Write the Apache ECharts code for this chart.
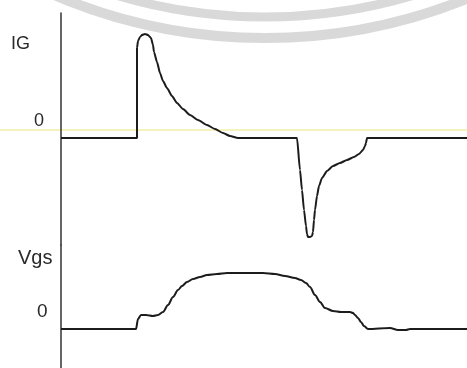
<!DOCTYPE html>
<html>
<head>
<meta charset="utf-8">
<script src="https://cdn.jsdelivr.net/npm/echarts@6/dist/echarts.min.js"></script>
<style>
html,body{margin:0;padding:0;background:#fff;}
#chart{width:467px;height:368px;}
</style>
</head>
<body>
<div id="chart"></div>
<script>
// time (arbitrary units) for gate current IG
const igTime = [0,76,76,77,79,81,84,87,90,92,93,96,99,102,106,111,116,122,129,137,146,154,162,169,177,
  236,239,241,243,245,246,247,249,251,252,253,254,256,258,261,266,272,279,286,293,298,302,304,305,306,406];
// gate current IG (arbitrary units)
const igValues = [0,0,0.90,0.97,1.01,1.03,1.04,1.03,1.00,0.93,0.86,0.76,0.65,0.57,0.50,0.42,0.35,0.29,0.23,0.18,0.13,0.09,0.05,0.02,0,
  0,-0.32,-0.52,-0.72,-0.88,-0.96,-0.99,-0.99,-0.98,-0.94,-0.82,-0.72,-0.58,-0.48,-0.40,-0.33,-0.28,-0.25,-0.22,-0.19,-0.16,-0.12,-0.08,-0.05,0,0];
// time for gate-source voltage Vgs
const vgsTime = [0,75,77,80,85,92,97,102,107,112,117,121,126,132,139,146,156,166,184,202,214,224,234,240,245,249,254,259,264,272,280,289,292,294,297,300,303,307,329,337,345,349,406];
// gate-source voltage Vgs (arbitrary units)
const vgsValues = [0,0,0.10,0.14,0.14,0.13,0.14,0.17,0.24,0.32,0.39,0.43,0.47,0.50,0.52,0.54,0.55,0.56,0.56,0.56,0.55,0.53,0.51,0.49,0.46,0.42,0.34,0.27,0.21,0.18,0.17,0.17,0.16,0.14,0.11,0.07,0.03,0,0.01,-0.01,-0.01,0,0];
// axis labels
const igLabels = ["IG","0"];
const vgsLabels = ["Vgs","0"];

const zip = (a,b) => a.map((t,i) => [t,b[i]]);

const chart = echarts.init(document.getElementById('chart'), null, {renderer:'canvas'});
const lineStyle = {color:'#1c1c1c', width:2};
const yAxisBase = {
  type:'value',
  axisLine:{show:true, lineStyle:{color:'#333', width:1.5}},
  axisTick:{show:false}, axisLabel:{show:false}, splitLine:{show:false}
};
const fnt = s => s + 'px "Liberation Sans", Arial, sans-serif';
chart.setOption({
  backgroundColor:'#ffffff',
  animation:false,
  grid:[
    {left:61, right:0, top:13, height:232},
    {left:61, right:0, top:245, height:123}
  ],
  xAxis:[
    {type:'value', gridIndex:0, min:0, max:406, show:false},
    {type:'value', gridIndex:1, min:0, max:406, show:false}
  ],
  yAxis:[
    Object.assign({gridIndex:0, min:-1.07, max:1.25}, yAxisBase),
    Object.assign({gridIndex:1, min:-0.39, max:0.84}, yAxisBase)
  ],
  graphic:[
    {type:'circle', shape:{cx:265, cy:-500, r:538}, style:{fill:null, stroke:'#d9d9d9', lineWidth:10}, silent:true, z:-10},
    {type:'circle', shape:{cx:265, cy:-500, r:517}, style:{fill:null, stroke:'#d9d9d9', lineWidth:9}, silent:true, z:-10},
    {type:'line', shape:{x1:0, y1:130, x2:467, y2:130}, style:{stroke:'#ece67a', lineWidth:1}, silent:true, z:-5},
    {type:'text', left:11, top:35, style:{text:igLabels[0], font:fnt(18), fill:'#2a2a2a'}},
    {type:'text', left:34, top:112, style:{text:igLabels[1], font:fnt(18), fill:'#2a2a2a'}},
    {type:'text', left:18, top:248, style:{text:vgsLabels[0], font:fnt(20), fill:'#2a2a2a'}},
    {type:'text', left:37, top:302, style:{text:vgsLabels[1], font:fnt(19), fill:'#2a2a2a'}}
  ],
  series:[
    {type:'line', xAxisIndex:0, yAxisIndex:0, data:zip(igTime, igValues), showSymbol:false, smooth:0.2, smoothMonotone:'x', lineStyle:lineStyle},
    {type:'line', xAxisIndex:1, yAxisIndex:1, data:zip(vgsTime, vgsValues), showSymbol:false, smooth:0.3, smoothMonotone:'x', lineStyle:lineStyle}
  ]
});
</script>
</body>
</html>
